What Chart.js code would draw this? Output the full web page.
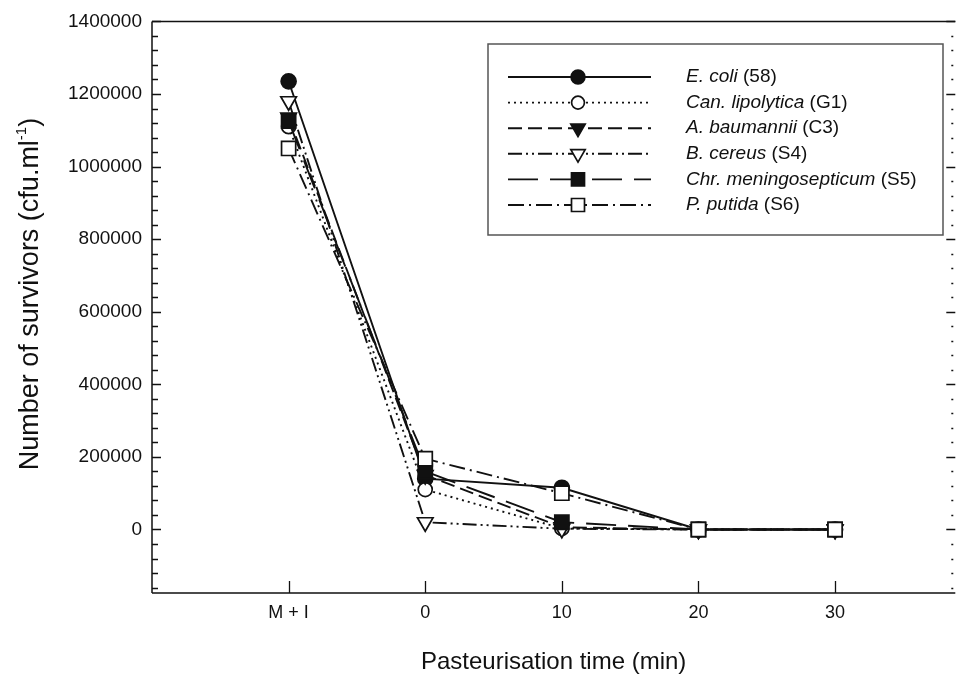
<!DOCTYPE html>
<html>
<head>
<meta charset="utf-8">
<script src="https://cdn.jsdelivr.net/npm/chart.js@4.4.0/dist/chart.umd.min.js"></script>
<style>
  html, body { margin: 0; padding: 0; background: #fff; }
  #wrap { width: 967px; height: 678px; position: relative; }
</style>
</head>
<body>
<div id="wrap"><canvas id="chart"></canvas></div>
<script>
// x positions: "M + I" sits one step before time 0
const xPos = [-10, 0, 10, 20, 30];
const xLabels = ['M + I', '0', '10', '20', '30'];
const yTicks = [0, 200000, 400000, 600000, 800000, 1000000, 1200000, 1400000];

const eColi = [1235000, 140000, 115000, 0, 0];
const canLipolytica = [1110000, 110000, 3000, 0, 0];
const aBaumannii = [1135000, 150000, 6000, 0, 0];
const bCereus = [1180000, 20000, 2000, 0, 0];
const chrMeningo = [1125000, 160000, 20000, 0, 0];
const pPutida = [1050000, 195000, 100000, 0, 0];

const seriesNames = [
  ['E. coli', ' (58)'],
  ['Can. lipolytica', ' (G1)'],
  ['A. baumannii', ' (C3)'],
  ['B. cereus', ' (S4)'],
  ['Chr. meningosepticum', ' (S5)'],
  ['P. putida', ' (S6)']
];

const INK = '#111';
const FONT = "'Liberation Sans', Arial, sans-serif";

function toPoints(vals) {
  return vals.map((v, i) => ({ x: xPos[i], y: v }));
}

function series(vals, dash, style, fill, radius, order) {
  return {
    data: toPoints(vals),
    borderColor: INK,
    borderWidth: 1.9,
    borderDash: dash,
    pointStyle: style,
    pointRotation: style === 'triangle' ? 180 : 0,
    pointRadius: radius,
    pointBackgroundColor: fill,
    pointBorderColor: INK,
    pointBorderWidth: 1.7,
    tension: 0,
    fill: false,
    order: order
  };
}

const datasets = [
  series(eColi, [], 'circle', INK, 7.5, 5),
  series(canLipolytica, [2, 4], 'circle', '#fff', 7, 4),
  series(aBaumannii, [14, 6], 'triangle', INK, 9, 3),
  series(bCereus, [14, 4, 2, 4, 2, 4], 'triangle', '#fff', 9, 2),
  series(chrMeningo, [30, 12], 'rect', INK, 10, 1),
  series(pPutida, [16, 5, 2, 5], 'rect', '#fff', 10, 0)
];

// inward ticks, spines, y title and the boxed legend
const framePlugin = {
  id: 'frame',
  afterDraw(chart) {
    const { ctx, chartArea: a, scales: { x, y } } = chart;
    ctx.save();
    ctx.strokeStyle = INK;
    ctx.lineWidth = 1.5;
    ctx.setLineDash([]);
    ctx.beginPath();
    ctx.moveTo(a.left, a.top); ctx.lineTo(a.left, a.bottom);
    ctx.moveTo(a.left, a.bottom); ctx.lineTo(a.right, a.bottom);
    ctx.moveTo(a.left, a.top); ctx.lineTo(a.right, a.top);
    ctx.stroke();

    // y ticks: majors every 200000, minors every 40000
    ctx.lineWidth = 1.3;
    ctx.beginPath();
    for (let v = -160000; v <= 1400000; v += 40000) {
      const py = Math.round(y.getPixelForValue(v)) + 0.5;
      const major = v % 200000 === 0;
      ctx.moveTo(a.left, py); ctx.lineTo(a.left + (major ? 9 : 6), py);
      if (major) {
        ctx.moveTo(a.right, py); ctx.lineTo(a.right - 9, py);
      } else {
        ctx.moveTo(a.right - 2, py); ctx.lineTo(a.right - 4, py);
      }
    }
    xPos.forEach(v => {
      const px = Math.round(x.getPixelForValue(v)) + 0.5;
      ctx.moveTo(px, a.bottom); ctx.lineTo(px, a.bottom - 12);
    });
    ctx.stroke();

    // y axis title with superscript
    ctx.save();
    ctx.translate(31, 294);
    ctx.rotate(-Math.PI / 2);
    ctx.fillStyle = INK;
    ctx.textBaseline = 'middle';
    ctx.textAlign = 'left';
    const main = 'Number of survivors (cfu.ml';
    const sup = '-1';
    const tail = ')';
    ctx.font = '27px ' + FONT;
    const w1 = ctx.measureText(main).width;
    const w3 = ctx.measureText(tail).width;
    ctx.font = '15px ' + FONT;
    const w2 = ctx.measureText(sup).width;
    let sx = -(w1 + w2 + w3) / 2;
    ctx.font = '27px ' + FONT;
    ctx.fillText(main, sx, 0);
    ctx.font = '15px ' + FONT;
    ctx.fillText(sup, sx + w1, -9);
    ctx.font = '27px ' + FONT;
    ctx.fillText(tail, sx + w1 + w2, 0);
    ctx.restore();

    // legend
    const bx = 488, by = 44, bw = 455, bh = 191;
    ctx.strokeStyle = '#555';
    ctx.lineWidth = 1.5;
    ctx.strokeRect(bx, by, bw, bh);
    chart.data.datasets.forEach((ds, i) => {
      const ry = 77 + i * 25.6;
      ctx.strokeStyle = INK;
      ctx.lineWidth = ds.borderWidth;
      ctx.setLineDash(ds.borderDash);
      ctx.beginPath();
      ctx.moveTo(508, ry); ctx.lineTo(651, ry);
      ctx.stroke();
      ctx.setLineDash([]);
      ctx.fillStyle = ds.pointBackgroundColor;
      ctx.lineWidth = ds.pointBorderWidth;
      Chart.helpers.drawPoint(ctx, {
        pointStyle: ds.pointStyle,
        rotation: ds.pointRotation,
        radius: ds.pointRadius * 0.92,
        borderWidth: ds.pointBorderWidth
      }, 578, ry);
      ctx.fillStyle = INK;
      ctx.textBaseline = 'middle';
      ctx.textAlign = 'left';
      ctx.font = 'italic 19px ' + FONT;
      ctx.fillText(seriesNames[i][0], 686, ry);
      const w = ctx.measureText(seriesNames[i][0]).width;
      ctx.font = '19px ' + FONT;
      ctx.fillText(seriesNames[i][1], 686 + w, ry);
    });
    ctx.restore();
  }
};

new Chart(document.getElementById('chart'), {
  type: 'line',
  data: { datasets },
  options: {
    responsive: true,
    maintainAspectRatio: false,
    animation: false,
    layout: { padding: { top: 17, right: 9, left: 0, bottom: 0 } },
    plugins: { legend: { display: false }, tooltip: { enabled: false } },
    scales: {
      x: {
        type: 'linear',
        min: -20,
        max: 38.8,
        grid: { display: false, drawTicks: false },
        border: { display: false },
        afterBuildTicks: s => { s.ticks = xPos.map(v => ({ value: v })); },
        afterFit: s => { s.height = 85; },
        ticks: {
          padding: 9,
          color: INK,
          font: { family: FONT, size: 18 },
          maxRotation: 0,
          callback: v => xLabels[xPos.indexOf(v)] ?? ''
        },
        title: {
          display: true,
          text: 'Pasteurisation time (min)',
          color: INK,
          font: { family: FONT, size: 24 },
          padding: { top: 0, bottom: 1 }
        }
      },
      y: {
        type: 'linear',
        min: -175000,
        max: 1400000,
        grid: { display: false, drawTicks: false },
        border: { display: false },
        afterBuildTicks: s => { s.ticks = yTicks.map(v => ({ value: v })); },
        afterFit: s => { s.width = 152; },
        ticks: {
          padding: 10,
          color: INK,
          font: { family: FONT, size: 19 },
          callback: v => String(v)
        }
      }
    }
  },
  plugins: [framePlugin]
});
</script>
</body>
</html>
